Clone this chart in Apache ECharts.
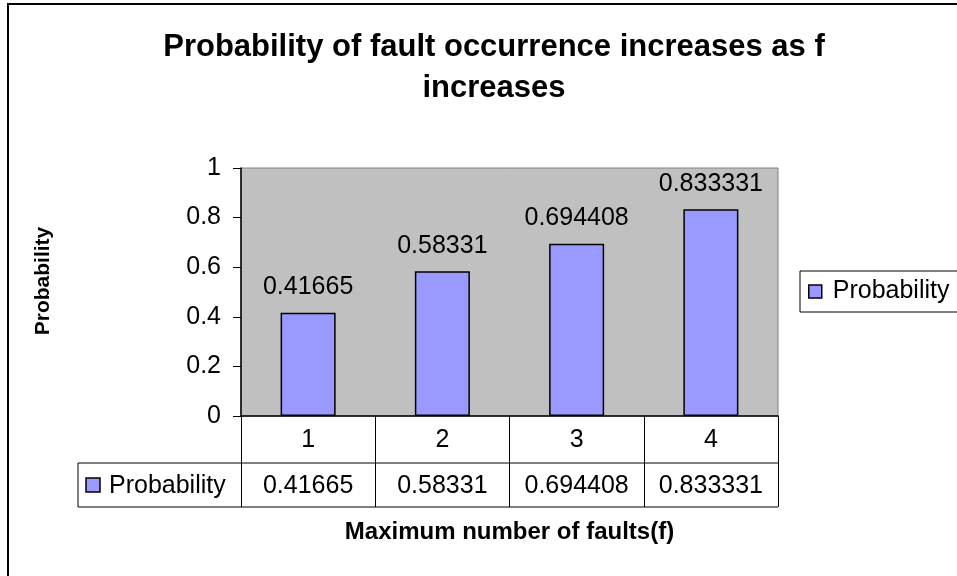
<!DOCTYPE html>
<html>
<head>
<meta charset="utf-8">
<script src="https://cdn.jsdelivr.net/npm/echarts@6/dist/echarts.min.js"></script>
<style>
html,body{margin:0;padding:0;background:#fff;}
#chart{width:957px;height:576px;}
</style>
</head>
<body>
<div id="chart"></div>
<script>
var categories = ['1', '2', '3', '4'];
var seriesName = 'Probability';
var probability = [0.41665, 0.58331, 0.694408, 0.833331];
var yTicks = { min: 0, max: 1, interval: 0.2 };
var titleText = 'Probability of fault occurrence increases as f\nincreases';
var xName = 'Maximum number of faults(f)';
var yName = 'Probability';

var FONT = '"Liberation Sans", Arial, sans-serif';
var chart = echarts.init(document.getElementById('chart'));

var option = {
  backgroundColor: '#ffffff',
  animation: false,
  textStyle: { fontFamily: FONT },
  title: {
    text: titleText,
    left: 489,
    textAlign: 'center',
    top: 22,
    textStyle: { fontFamily: FONT, fontSize: 31, fontWeight: 'bold', color: '#000', lineHeight: 41 }
  },
  legend: {
    left: 800,
    top: 271,
    orient: 'vertical',
    data: [seriesName],
    icon: 'rect',
    itemWidth: 13,
    itemHeight: 13,
    itemGap: 0,
    padding: [8, 30, 8, 8],
    borderColor: '#000',
    borderWidth: 1,
    backgroundColor: '#fff',
    borderRadius: 0,
    itemStyle: { borderColor: '#000', borderWidth: 1.5 },
    textStyle: { fontFamily: FONT, fontSize: 25, color: '#000', padding: [0, 0, 0, 6] }
  },
  grid: {
    left: 241, right: 179, top: 168, bottom: 160,
    show: true,
    backgroundColor: '#C0C0C0',
    borderColor: '#808080',
    borderWidth: 1
  },
  xAxis: [{
    type: 'category',
    data: categories,
    position: 'bottom',
    axisLine: { lineStyle: { color: '#000', width: 1.5 } },
    axisTick: { show: true, length: 91, alignWithLabel: false, lineStyle: { color: '#000', width: 1 } },
    axisLabel: { interval: 0, margin: 12, fontFamily: FONT, fontSize: 25, color: '#000' },
    name: xName,
    nameLocation: 'middle',
    nameGap: 104,
    nameTextStyle: { fontFamily: FONT, fontSize: 24, fontWeight: 'bold', color: '#000' }
  }, {
    type: 'category',
    data: probability.map(function (v) { return String(v); }),
    position: 'bottom',
    offset: 47,
    axisLine: { show: false },
    axisTick: { show: false },
    axisLabel: { interval: 0, hideOverlap: false, margin: 11, fontFamily: FONT, fontSize: 25, color: '#000' }
  }],
  yAxis: {
    type: 'value',
    min: yTicks.min, max: yTicks.max, interval: yTicks.interval,
    axisLine: { show: true, lineStyle: { color: '#000', width: 1.5 } },
    axisTick: { show: true, length: 8, lineStyle: { color: '#000' } },
    splitLine: { show: false },
    axisLabel: { margin: 20, fontFamily: FONT, fontSize: 25, color: '#000' },
    name: yName,
    nameLocation: 'middle',
    nameGap: 187,
    nameRotate: 90,
    nameTextStyle: { fontFamily: FONT, fontSize: 21, fontWeight: 'bold', color: '#000', padding: [0, 0, 0, 22] }
  },
  series: [{
    name: seriesName,
    type: 'bar',
    data: probability,
    barWidth: '41%',
    itemStyle: { color: '#9999FF', borderColor: '#000', borderWidth: 1.5 },
    label: {
      show: true, position: 'top', distance: 13,
      fontFamily: FONT, fontSize: 25, color: '#000',
      formatter: function (p) { return String(p.value); }
    }
  }]
};
chart.setOption(option);

// Data table decorations derived from the grid/axis scale
var x0 = chart.convertToPixel({ xAxisIndex: 0 }, categories[0]);
var x1 = chart.convertToPixel({ xAxisIndex: 0 }, categories[1]);
var band = x1 - x0;
var gridLeft = x0 - band / 2;
var gridRight = gridLeft + band * categories.length;
var yZero = chart.convertToPixel({ yAxisIndex: 0 }, 0);
var row1 = yZero + 47;
var row2 = yZero + 91;
var tableLeft = 78;

chart.setOption({
  graphic: [
    { type: 'rect', shape: { x: 8, y: 4, width: 960, height: 574 }, style: { fill: 'none', stroke: '#000', lineWidth: 2 }, silent: true, z: -1 },
    { type: 'line', shape: { x1: tableLeft, y1: row1, x2: gridRight, y2: row1 }, style: { stroke: '#000', lineWidth: 1 } },
    { type: 'line', shape: { x1: tableLeft, y1: row2, x2: gridRight, y2: row2 }, style: { stroke: '#000', lineWidth: 1 } },
    { type: 'line', shape: { x1: tableLeft, y1: row1, x2: tableLeft, y2: row2 }, style: { stroke: '#000', lineWidth: 1 } },
    { type: 'rect', shape: { x: 86, y: row1 + 15, width: 14, height: 14 }, style: { fill: '#9999FF', stroke: '#000', lineWidth: 1.5 } },
    { type: 'text', x: 109, y: (row1 + row2) / 2 + 1, style: { text: seriesName, font: '25px ' + FONT, fill: '#000', verticalAlign: 'middle', textAlign: 'left' } }
  ]
});
</script>
</body>
</html>
